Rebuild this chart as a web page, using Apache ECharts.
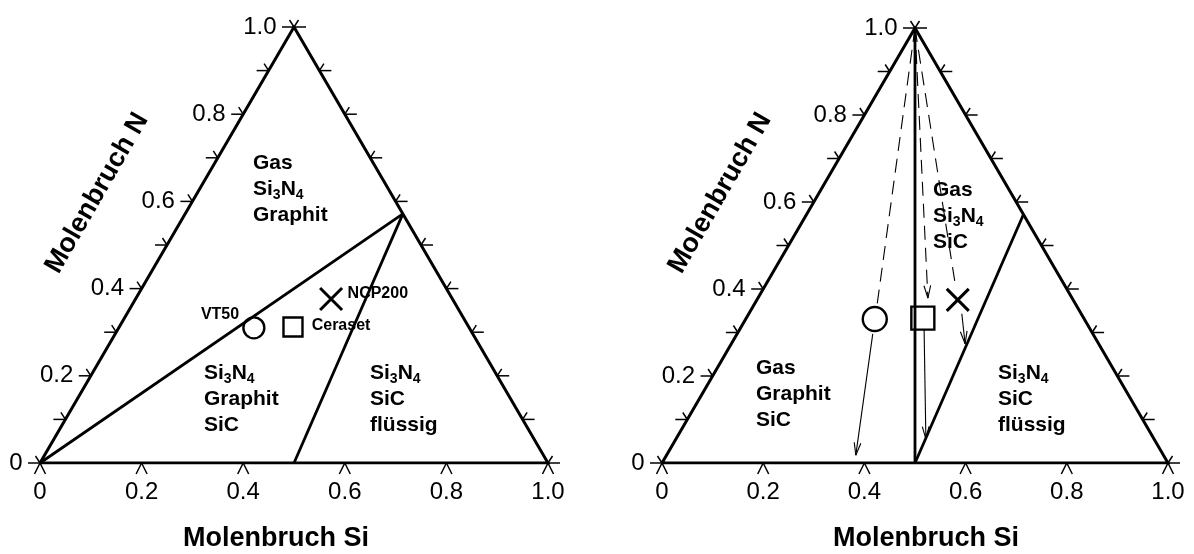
<!DOCTYPE html>
<html><head><meta charset="utf-8">
<script src="https://cdn.jsdelivr.net/npm/echarts@6/dist/echarts.min.js"></script>
<style>html,body{margin:0;padding:0;background:#fff}#c{width:1194px;height:554px}</style>
</head><body><div id="c"></div>
<script>
// ---- data (compositions given as [Si, N] mole fractions) ----
const edgeTicksN = [0, 0.1, 0.2, 0.3, 0.4, 0.5, 0.6, 0.7, 0.8, 0.9, 1.0];
const baseTicksSi = [0, 0.2, 0.4, 0.6, 0.8, 1.0];
const nLabelValues = [0, 0.2, 0.4, 0.6, 0.8, 1.0];
const nTickLabels = ['0', '0.2', '0.4', '0.6', '0.8', '1.0'];
const siTickLabels = ['0', '0.2', '0.4', '0.6', '0.8', '1.0'];

const vertexC = [0, 0];
const vertexSi = [1, 0];
const vertexN = [0, 1];
const phaseSi3N4 = [0.4286, 0.5714];
const phaseSiC = [0.5, 0];

const sampleNames = ['VT50', 'Ceraset', 'NCP200'];
const leftSampleSi = [0.266, 0.342, 0.385];
const leftSampleN = [0.310, 0.312, 0.376];
const rightSampleSi = [0.255, 0.349, 0.397];
const rightSampleN = [0.331, 0.333, 0.375];

const rightDashedEnds = [[0.245, 0.359], [0.336, 0.379], [0.374, 0.411]];
const rightDashedHead = [0, 1, 0];
const rightArrowStarts = [[0.268, 0.297], [0.365, 0.306], [0.421, 0.343]];
const rightArrowEnds = [[0.374, 0.018], [0.494, 0.055], [0.462, 0.274]];

// ---- helpers ----
const FONT = 'Liberation Sans, Arial, Helvetica, sans-serif';
function plot(c) { return [c[0] + c[1] / 2, c[1]]; }

function tickRender(params, api) {
  const p = api.coord([api.value(0), api.value(1)]);
  const side = api.value(2);
  let ends;
  if (side === 0) ends = [[p[0] - 12, p[1]], [p[0] - 4.5, p[1] - 7]];
  else if (side === 1) ends = [[p[0] + 12, p[1]], [p[0] + 4.5, p[1] - 7]];
  else ends = [[p[0] - 5.5, p[1] + 11], [p[0] + 5.5, p[1] + 11]];
  return { type: 'group', children: ends.map(e => ({
    type: 'line', shape: { x1: p[0], y1: p[1], x2: e[0], y2: e[1] },
    style: { stroke: '#000', lineWidth: 1.5 } })) };
}

function arrowRender(params, api) {
  const p1 = api.coord([api.value(0), api.value(1)]);
  const p2 = api.coord([api.value(2), api.value(3)]);
  const dashed = api.value(4) === 1, head = api.value(5) === 1;
  const children = [{ type: 'line', shape: { x1: p1[0], y1: p1[1], x2: p2[0], y2: p2[1] },
    style: { stroke: '#000', lineWidth: 1.1, lineDash: dashed ? [14, 8] : null } }];
  if (head) {
    const dx = p2[0] - p1[0], dy = p2[1] - p1[1], L = Math.hypot(dx, dy);
    const ux = dx / L, uy = dy / L, a = 0.26, len = 13;
    [a, -a].forEach(t => {
      const rx = ux * Math.cos(t) - uy * Math.sin(t), ry = ux * Math.sin(t) + uy * Math.cos(t);
      children.push({ type: 'line', shape: { x1: p2[0], y1: p2[1], x2: p2[0] - rx * len, y2: p2[1] - ry * len },
        style: { stroke: '#000', lineWidth: 1.1 } });
    });
  }
  return { type: 'group', children };
}

const tickData = []
  .concat(edgeTicksN.map(t => [t / 2, t, 0]))
  .concat(edgeTicksN.map(t => [1 - t / 2, t, 1]))
  .concat(baseTicksSi.map(t => [t, 0, 2]));

const markerSymbols = ['circle', 'rect', 'path://M0,0L10,10M10,0L0,10'];
const leftSizes = [21, 19, 22];
const rightSizes = [24, 23, 22];
const leftLabelCfg = [
  { position: 'left', distance: 3, offset: [0, -13] },
  { position: 'right', distance: 8, offset: [0, -1] },
  { position: 'right', distance: 4, offset: [0, -5] }
];

function buildSeries(gi, boundaries, sampleSi, sampleN, sizes, withLabels) {
  const s = [];
  s.push({ type: 'line', xAxisIndex: gi, yAxisIndex: gi, symbol: 'none', silent: true,
    data: [vertexC, vertexN, vertexSi, vertexC].map(plot),
    lineStyle: { color: '#000', width: 3, join: 'miter' } });
  boundaries.forEach(b => s.push({ type: 'line', xAxisIndex: gi, yAxisIndex: gi, symbol: 'none',
    data: b.map(plot), lineStyle: { color: '#000', width: 2.8 } }));
  s.push({ type: 'custom', xAxisIndex: gi, yAxisIndex: gi, renderItem: tickRender, data: tickData });
  s.push({ type: 'scatter', xAxisIndex: gi, yAxisIndex: gi, symbolSize: 1,
    itemStyle: { color: 'rgba(0,0,0,0)' },
    data: nLabelValues.map(t => [t / 2, t]),
    label: { show: true, position: 'left', distance: 17, color: '#000', opacity: 1, fontSize: 24, fontFamily: FONT,
      formatter: p => nTickLabels[p.dataIndex] } });
  sampleNames.forEach((nm, i) => {
    const lab = withLabels ? Object.assign({ show: true, formatter: nm, color: '#000', opacity: 1, fontSize: 16,
      fontWeight: 'bold', fontFamily: FONT }, leftLabelCfg[i]) : { show: false };
    s.push({ type: 'scatter', xAxisIndex: gi, yAxisIndex: gi, name: nm, symbol: markerSymbols[i],
      symbolSize: sizes[i], data: [plot([sampleSi[i], sampleN[i]])],
      itemStyle: { color: 'rgba(255,255,255,0)', borderColor: '#000', borderWidth: i === 2 ? 3 : 2.4, opacity: 1 },
      label: lab });
  });
  return s;
}

const series = []
  .concat(buildSeries(0, [[vertexC, phaseSi3N4], [phaseSiC, phaseSi3N4]], leftSampleSi, leftSampleN, leftSizes, true))
  .concat(buildSeries(1, [[vertexN, phaseSiC], [phaseSiC, phaseSi3N4]], rightSampleSi, rightSampleN, rightSizes, false));

const arrowData = [];
rightDashedEnds.forEach((e, i) => arrowData.push(plot(vertexN).concat(plot(e), [1, rightDashedHead[i]])));
rightArrowStarts.forEach((st, i) => arrowData.push(plot(st).concat(plot(rightArrowEnds[i]), [0, 1])));
series.push({ type: 'custom', xAxisIndex: 1, yAxisIndex: 1, renderItem: arrowRender,
  encode: { x: [0, 2], y: [1, 3] }, data: arrowData });

function xAxisCfg(gi) {
  return { gridIndex: gi, type: 'value', min: 0, max: 1, interval: 0.2,
    axisLine: { show: false }, axisTick: { show: false }, splitLine: { show: false },
    axisLabel: { color: '#000', fontSize: 24, fontFamily: FONT, margin: 17,
      formatter: v => siTickLabels[Math.round(v / 0.2)] } };
}
function yAxisCfg(gi) {
  return { gridIndex: gi, type: 'value', min: 0, max: 1, show: false, splitLine: { show: false } };
}

const rich = {
  b: { fontSize: 21, fontWeight: 'bold', fontFamily: FONT, lineHeight: 26, color: '#000' },
  s: { fontSize: 14, fontWeight: 'bold', fontFamily: FONT, lineHeight: 16, verticalAlign: 'bottom', color: '#000' }
};
const SI3N4 = '{b|Si}{s|3}{b|N}{s|4}';
function regionText(x, y, lines) {
  return { type: 'text', x, y, silent: true,
    style: { text: lines.join('\n'), rich, align: 'left', verticalAlign: 'top', fill: '#000' } };
}
function titleText(x, y, text, rot) {
  return { type: 'text', x, y, rotation: rot || 0, silent: true,
    style: { text, fontSize: 27, fontWeight: 'bold', fontFamily: FONT, fill: '#000',
      align: rot ? 'center' : 'left', verticalAlign: 'middle' } };
}

const option = {
  animation: false,
  backgroundColor: '#fff',
  grid: [
    { left: 40, top: 27, width: 508, height: 436 },
    { left: 662, top: 28, width: 506, height: 435 }
  ],
  xAxis: [xAxisCfg(0), xAxisCfg(1)],
  yAxis: [yAxisCfg(0), yAxisCfg(1)],
  series,
  graphic: [
    regionText(253, 150, ['{b|Gas}', SI3N4, '{b|Graphit}']),
    regionText(204, 360, [SI3N4, '{b|Graphit}', '{b|SiC}']),
    regionText(370, 360, [SI3N4, '{b|SiC}', '{b|flüssig}']),
    regionText(933, 177, ['{b|Gas}', SI3N4, '{b|SiC}']),
    regionText(756, 355, ['{b|Gas}', '{b|Graphit}', '{b|SiC}']),
    regionText(998, 360, [SI3N4, '{b|SiC}', '{b|flüssig}']),
    titleText(97, 193, 'Molenbruch N', Math.PI / 3),
    titleText(720, 193, 'Molenbruch N', Math.PI / 3),
    titleText(183, 539, 'Molenbruch Si'),
    titleText(833, 539, 'Molenbruch Si')
  ]
};
const chart = echarts.init(document.getElementById('c'), null, { renderer: 'canvas' });
chart.setOption(option);
</script>
</body></html>
